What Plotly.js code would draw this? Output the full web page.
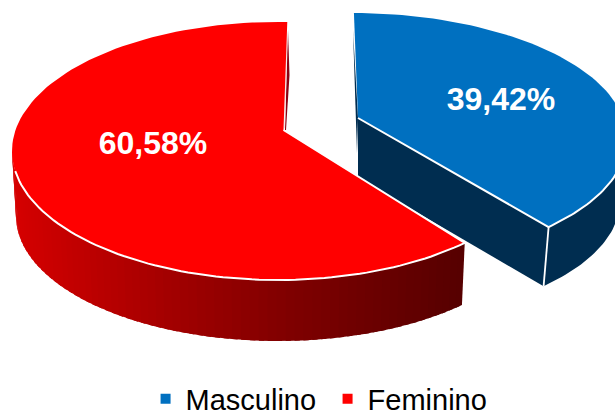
<!DOCTYPE html>
<html>
<head>
<meta charset="utf-8">
<script src="https://cdn.plot.ly/plotly-3.0.1.min.js"></script>
<style>html,body{margin:0;padding:0;background:#fff;overflow:hidden}#c{width:615px;height:410px}</style>
</head>
<body>
<div id="c"></div>
<script>
const categories = ["Masculino", "Feminino"];
const values = [39.42, 60.58];
const topColors = ["#0070C0", "#FF0000"];
const sideColorsBlue = ["#002D50", "#002D50"];
const sideStopsRed = [[12, [214,0,0]], [180, [160,0,0]], [290, [128,0,0]], [465, [86,0,0]]];

// Projection of the tilted, exploded pie on the page (perspective approximated)
const proj = {
  blue: {top:{cx:352,cy:139,rx:275,ry:126}, bot:{cx:352,cy:201,rx:268,ry:122}, apex:[358,118], start:89.6, k:0.944},
  red:  {top:{cx:278,cy:151,rx:266,ry:129}, bot:{cx:278,cy:216,rx:262,ry:125}, apex:[283.5,130], start:88, k:1.039}
};
const rim = (e, deg) => [e.cx + e.rx*Math.cos(deg*Math.PI/180), e.cy - e.ry*Math.sin(deg*Math.PI/180)];
const arc = (e, a, b, n) => { const p=[]; for(let i=0;i<=n;i++) p.push(rim(e, a+(b-a)*i/n)); return p; };
const traces = [];
function poly(pts, fill, lineColor, lineWidth){
  traces.push({type:'scatter', x:pts.map(p=>p[0]).concat(pts[0][0]), y:pts.map(p=>p[1]).concat(pts[0][1]),
    mode:'lines', fill:'toself', fillcolor:fill, line:{color:lineColor||fill, width:lineWidth===undefined?0:lineWidth},
    hoverinfo:'skip', showlegend:false});
}
function path(pts, color, width){
  traces.push({type:'scatter', x:pts.map(p=>p[0]), y:pts.map(p=>p[1]), mode:'lines', line:{color:color,width:width}, hoverinfo:'skip', showlegend:false});
}
function redAt(x){
  for(let i=0;i<sideStopsRed.length-1;i++){
    const [x0,c0]=sideStopsRed[i],[x1,c1]=sideStopsRed[i+1];
    if(x<=x1){const t=Math.max(0,(x-x0)/(x1-x0));return `rgb(${c0.map((v,j)=>Math.round(v+(c1[j]-v)*t)).join(',')})`;}
  }
  return 'rgb(86,0,0)';
}

// Blue slice
const B = proj.blue;
const bEnd = B.start - values[0]*3.6*B.k;
const bP = rim(B.top,bEnd), bQ = rim(B.bot,bEnd);
poly([B.apex, bP, bQ, [358,178]], sideColorsBlue[0]);               // cut face
poly(arc(B.top,bEnd,15,50).concat(arc(B.bot,15,bEnd,50)), sideColorsBlue[1]); // outer wall
poly([[353,30],[357,153],[358,118]], sideColorsBlue[0]);            // sliver at the back cut
path([bP,bQ],'#ffffff',1.8);
poly([B.apex].concat(arc(B.top,B.start,bEnd,80)), topColors[0]);
path([[358,118],bP].concat(arc(B.top,bEnd,15,50)),'#ffffff',2);

// Red slice
const R = proj.red;
const rEnd = R.start + values[1]*3.6*R.k;
const nSeg = 70;
for(let i=0;i<nSeg;i++){
  const a = 178 + (rEnd-178)*i/nSeg;
  const b = 178 + (rEnd-178)*Math.min(nSeg,i+1.6)/nSeg;
  const pts = arc(R.top,a,b,3).concat(arc(R.bot,b,a,3));
  poly(pts, redAt(rim(R.top,(a+b)/2)[0]));
}
poly([[288,30],[289.5,75],[286,130],[285,130]], '#8c0010');         // sliver at the back cut
path([[287,34],[284.5,128]],'#f4e8e8',1);
poly([R.apex].concat(arc(R.top,R.start,rEnd,120)), topColors[1]);
path(arc(R.top,189,rEnd,80).concat([R.apex]),'#ffffff',2);

// Labels
traces.push({type:'scatter', x:[501,153], y:[102,146], mode:'text',
  text:values.map(v=>v.toFixed(2).replace('.',',')+'%'),
  textposition:'middle center',
  textfont:{family:'"Liberation Sans", Arial, sans-serif', size:32, color:'#ffffff', weight:700},
  hoverinfo:'skip', showlegend:false});

// Legend entries
categories.forEach((c,i)=>traces.push({type:'scatter', x:[-100], y:[-100], mode:'markers', name:c,
  marker:{symbol:'square', size:10, color:topColors[i]}, hoverinfo:'skip'}));

const layout = {
  width:615, height:410, paper_bgcolor:'#fff', plot_bgcolor:'#fff',
  margin:{l:0,r:0,t:0,b:0,pad:0,autoexpand:false},
  xaxis:{range:[0,615], visible:false, fixedrange:true},
  yaxis:{range:[410,0], visible:false, fixedrange:true},
  showlegend:true,
  legend:{orientation:'h', x:0.2367, xanchor:'left', y:-0.035, yanchor:'bottom',
    font:{family:'"Liberation Sans", Arial, sans-serif', size:29, color:'#000'},
    bgcolor:'rgba(0,0,0,0)', itemwidth:30, traceorder:'normal', entrywidth:137, entrywidthmode:'pixels'}
};
Plotly.newPlot('c', traces, layout, {displayModeBar:false, staticPlot:true});
</script>
</body>
</html>
